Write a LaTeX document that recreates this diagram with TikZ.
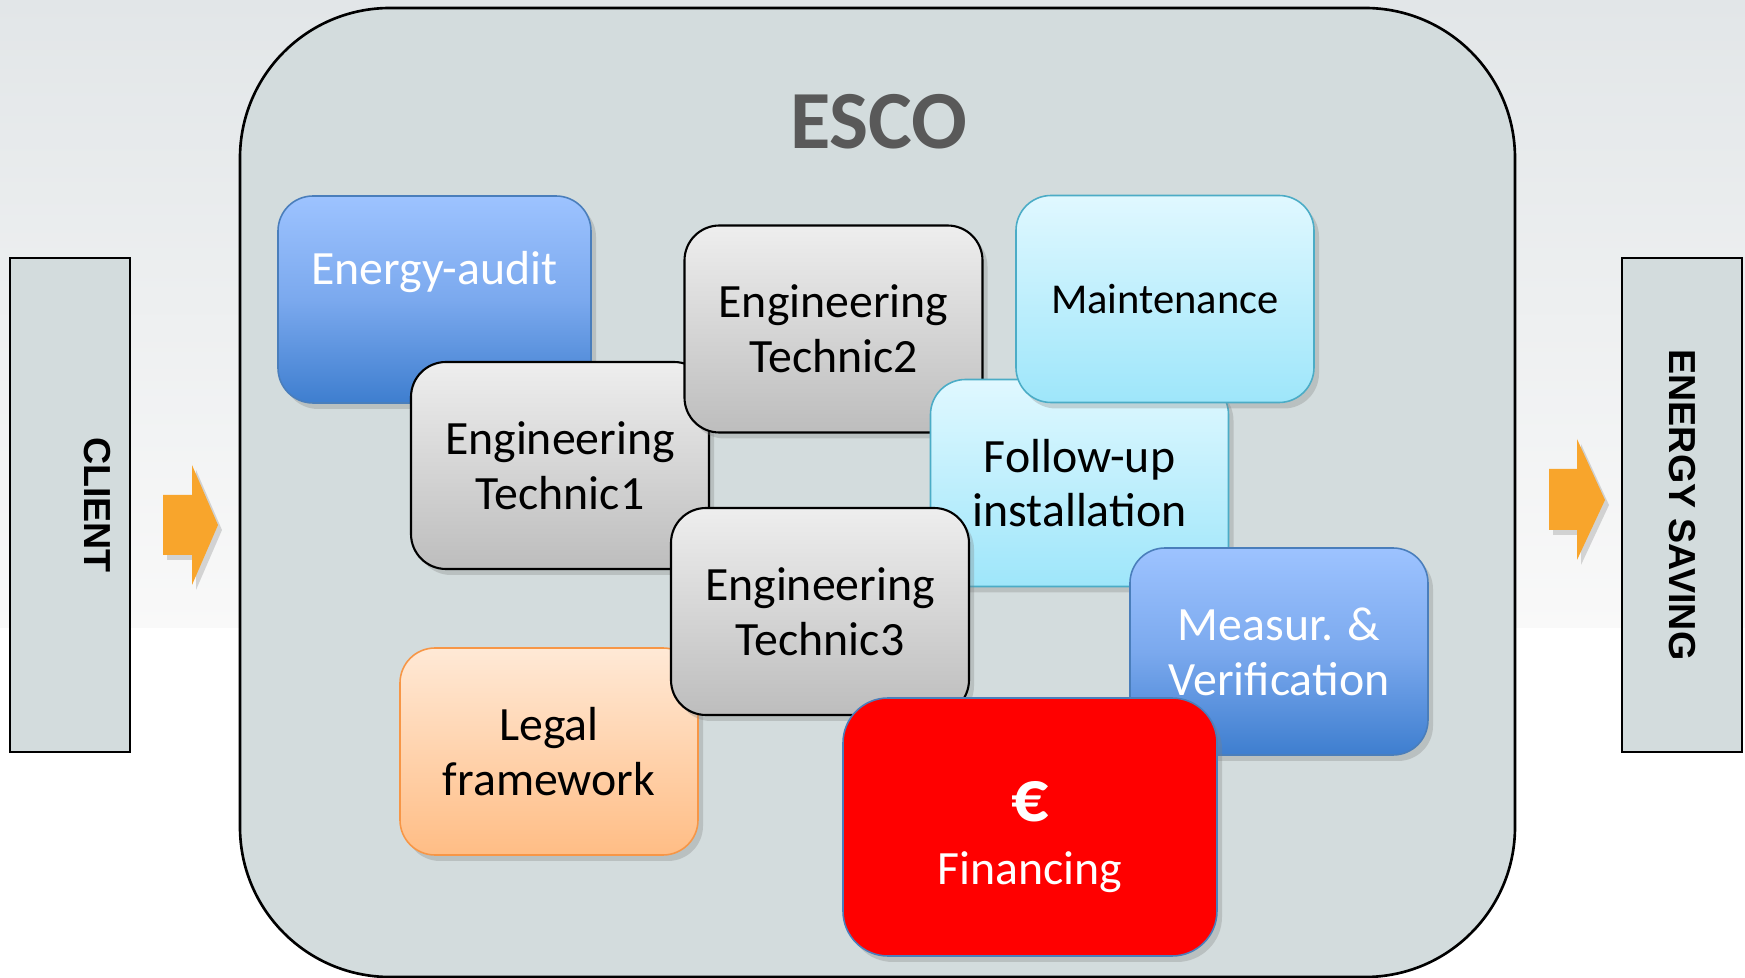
\documentclass[tikz,border=0pt]{standalone}
\usepackage{fontspec}
\setmainfont{Carlito}
\newfontfamily\sidefont{Liberation Sans}
\usetikzlibrary{shadows}

\definecolor{bgtop}{HTML}{E2E6E8}
\definecolor{bglow}{HTML}{F9F9F9}
\definecolor{escofill}{HTML}{D3DCDD}
\definecolor{escotext}{HTML}{595959}
\definecolor{arroworange}{HTML}{F8A52C}
\definecolor{bluetop}{HTML}{9DC3FF}
\definecolor{bluemid}{HTML}{7BA9EE}
\definecolor{bluebot}{HTML}{3E7ECF}
\definecolor{blueline}{HTML}{4A7EBB}
\definecolor{cyantop}{HTML}{E0F8FF}
\definecolor{cyanbot}{HTML}{9EE6FA}
\definecolor{cyanline}{HTML}{4BACC6}
\definecolor{graytop}{HTML}{EEEEEE}
\definecolor{graybot}{HTML}{BDBDBD}
\definecolor{orangetop}{HTML}{FFE9D6}
\definecolor{orangebot}{HTML}{FFBD85}
\definecolor{orangeline}{HTML}{F79646}
\definecolor{financered}{HTML}{FF0000}

\tikzstyle{escoframe} = [
    rectangle,
    rounded corners=1.5cm,
    minimum width=12.75cm,
    minimum height=9.69cm,
    draw=black,
    line width=0.75pt,
    fill=escofill
]
\tikzstyle{sidebox} = [
    rectangle,
    minimum width=1.2cm,
    minimum height=4.94cm,
    draw=black,
    line width=0.6pt,
    fill=escofill
]
\tikzstyle{sidetext} = [
    rotate=-90,
    font=\sidefont\bfseries\fontsize{10.7}{12}\selectfont
]
\tikzstyle{task} = [
    rectangle,
    rounded corners=0.35cm,
    minimum width=2.98cm,
    minimum height=2.07cm,
    align=center,
    line width=0.45pt,
    font=\fontsize{13.6}{15.6}\selectfont,
    drop shadow={shadow xshift=0.5mm, shadow yshift=-0.6mm, opacity=0.3}
]
\tikzstyle{techbox} = [task, draw=black, line width=0.6pt, top color=graytop, bottom color=graybot]
\tikzstyle{auditbox} = [task, draw=blueline, top color=bluetop, bottom color=bluebot, middle color=bluemid, text=white]
\tikzstyle{servicebox} = [task, draw=cyanline, top color=cyantop, bottom color=cyanbot]
\tikzstyle{lawbox} = [task, draw=orangeline, top color=orangetop, bottom color=orangebot]
\tikzstyle{fundbox} = [
    task,
    draw=blueline,
    fill=financered,
    text=white,
    rounded corners=0.45cm,
    minimum width=3.74cm,
    minimum height=2.58cm
]
\tikzstyle{blockarrow} = [fill=arroworange, drop shadow={shadow xshift=0.4mm, shadow yshift=-0.5mm, opacity=0.3}]

\begin{document}
\begin{tikzpicture}

\useasboundingbox (0,0) rectangle (17.45,9.78);
\fill[top color=bgtop, bottom color=bglow] (0,3.5) rectangle (17.45,9.78);
\fill[white] (0,0) rectangle (17.45,3.5);

\node (client) [sidebox, label={[sidetext, yshift=2.7mm]center:CLIENT}] at (0.70,4.73) {};

\node (saving) [sidebox, label={[sidetext]center:ENERGY SAVING}] at (16.82,4.73) {};

\node (esco) [escoframe] at (8.775,4.855) {};

\node (escotitle) [font=\bfseries\fontsize{23.5}{28}\selectfont, text=escotext] at (8.79,8.56) {ESCO};

\node (audit) [auditbox, minimum width=3.13cm] at (4.345,6.785)
{Energy-audit\\\phantom{Energy}};

\node (tech1) [techbox] at (5.60,5.125)
{Engineering\\Technic1};

\node (legal) [lawbox] at (5.49,2.265)
{Legal\\framework};

\node (tech2) [techbox] at (8.335,6.49)
{Engineering\\Technic2};

\node (followup) [servicebox] at (10.795,4.95)
{Follow-up\\installation};

\node (upkeep) [servicebox, font=\fontsize{12.1}{14}\selectfont] at (11.65,6.79)
{Maintenance};

\node (tech3) [techbox] at (8.20,3.665)
{Engineering\\Technic3};

\node (measure) [auditbox] at (12.79,3.265)
{Measur. \&\\Verification};

\node (funding) [fundbox] at (10.30,1.51)
{{\bfseries\fontsize{21}{21}\selectfont\rule{0pt}{17pt}€}\\[2.4pt]Financing};

\fill[blockarrow] (1.63,4.83) -- (1.92,4.83) -- (1.92,5.13) -- (2.18,4.53)
    -- (1.92,3.93) -- (1.92,4.23) -- (1.63,4.23) -- cycle;
\fill[blockarrow] (15.49,5.09) -- (15.77,5.09) -- (15.77,5.39) -- (16.05,4.78)
    -- (15.77,4.18) -- (15.77,4.48) -- (15.49,4.48) -- cycle;

\end{tikzpicture}
\end{document}
